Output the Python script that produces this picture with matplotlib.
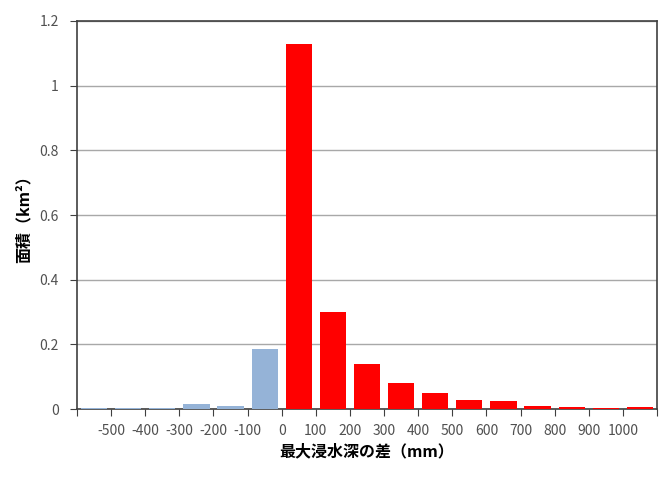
import numpy as np
import matplotlib.pyplot as plt

plt.rcParams['font.family'] = ['Noto Sans CJK JP', 'DejaVu Sans']

# bins: <-500, -500..-400, ..., 900..1000, >1000
values = [0.002, 0.002, 0.002, 0.017, 0.008, 0.185,
          1.13, 0.30, 0.138, 0.08, 0.05, 0.027, 0.025, 0.008, 0.005, 0.003, 0.005]
tick_labels = ['-500', '-400', '-300', '-200', '-100', '0', '100', '200', '300',
               '400', '500', '600', '700', '800', '900', '1000']

n = len(values)
x = np.arange(n)
colors = ['#95B3D7' if i < 6 else '#FF0000' for i in range(n)]

fig = plt.figure(figsize=(6.66, 4.86), dpi=100)
ax = fig.add_axes([0.1156, 0.1584, 0.8709, 0.7984])

ax.bar(x, values, width=0.77, color=colors, zorder=3)

ax.set_xlim(-0.5, n - 0.5)
ax.set_ylim(0, 1.2)
ax.set_yticks(np.arange(0, 1.21, 0.2))
ax.set_yticklabels(['0', '0.2', '0.4', '0.6', '0.8', '1', '1.2'])
ax.yaxis.grid(True, color='#a8a8a8', linewidth=1, zorder=0)

edges = np.arange(-0.5, n, 1.0)
ax.set_xticks(edges)
ax.set_xticklabels([''] + tick_labels + [''])

for s in ax.spines.values():
    s.set_color('#404040')
    s.set_linewidth(1.2)

ax.tick_params(axis='both', colors='#404040', labelcolor='#505050',
               labelsize=10, direction='out', length=5)
ax.tick_params(axis='x', pad=6)
ax.tick_params(axis='y', pad=8)

ax.set_ylabel('面積（km²）', fontsize=11.5, fontweight='bold', labelpad=6)
ax.set_xlabel('最大浸水深の差（mm）', fontsize=11.5, fontweight='bold', labelpad=4)

fig.savefig('out.png', dpi=100)
